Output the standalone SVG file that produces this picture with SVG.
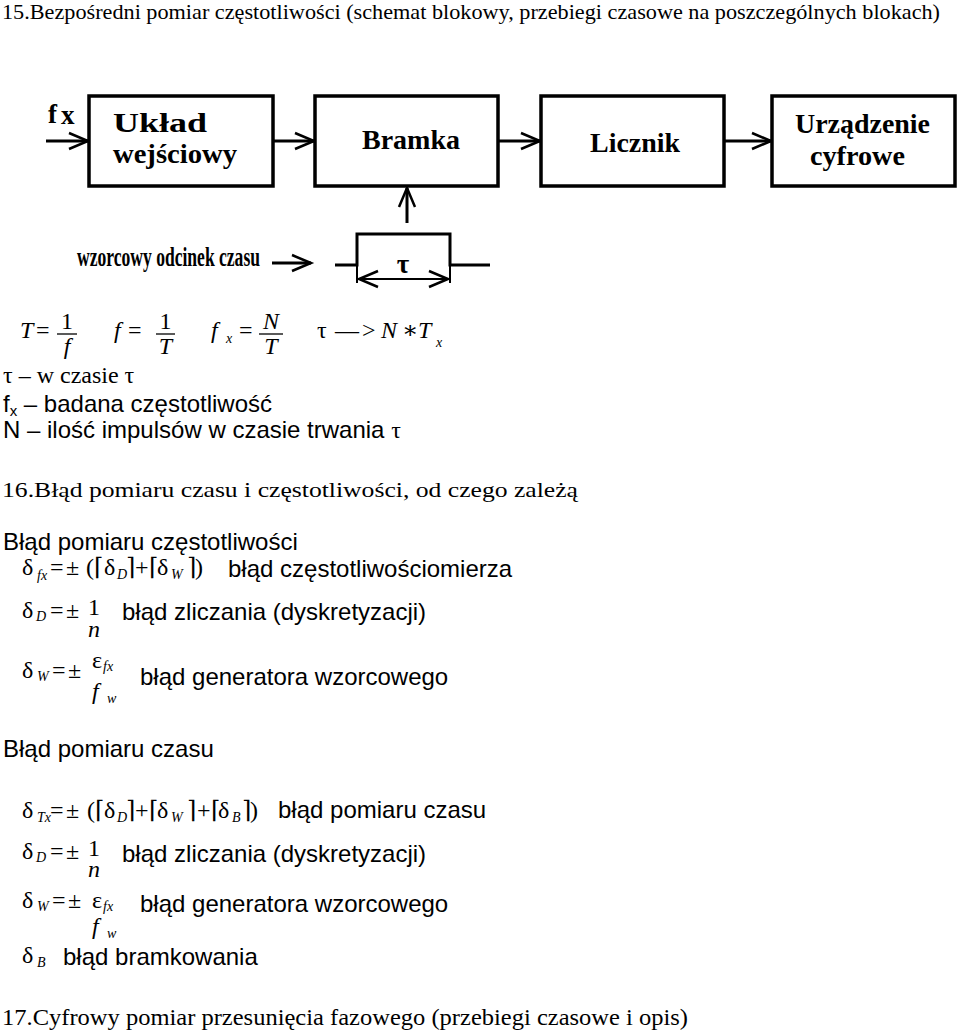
<svg xmlns="http://www.w3.org/2000/svg" width="960" height="1030" viewBox="0 0 960 1030">
<style>
.ser{font-family:"Liberation Serif","DejaVu Serif",serif;fill:#000}
.it{font-style:italic}
.ar{font-family:"Liberation Sans",Arial,sans-serif;font-size:24px;fill:#000}
.blk{font-family:"Liberation Serif","DejaVu Serif",serif;font-weight:bold;font-size:27px;fill:#000}
.box{fill:#fff;stroke:#000;stroke-width:3.5}
.ln{fill:none;stroke:#000;stroke-width:3}
.thin{fill:none;stroke:#000;stroke-width:2}
.bar{stroke:#000;stroke-width:1.3}
.m{font-family:"Liberation Serif","DejaVu Serif",serif;font-size:24px;fill:#000}
.d{font-family:"Liberation Serif","DejaVu Serif",serif;font-size:24px;fill:#000}
.s{font-family:"Liberation Serif","DejaVu Serif",serif;font-size:14px;font-style:italic;fill:#000}
</style>
<defs>
<marker id="ah" viewBox="-22 -12 24 24" refX="0" refY="0" markerWidth="24" markerHeight="24" markerUnits="userSpaceOnUse" orient="auto-start-reverse" overflow="visible">
<path d="M-19,-8 L0,0 L-19,8" fill="none" stroke="#000" stroke-width="2.5"/>
</marker>
</defs>
<rect width="960" height="1030" fill="#fff"/>

<text class="ser" x="2" y="19" font-size="22" textLength="938" lengthAdjust="spacingAndGlyphs">15.Bezpośredni pomiar częstotliwości (schemat blokowy, przebiegi czasowe na poszczególnych blokach)</text>

<g id="connectors">
<line class="ln" x1="46" y1="141" x2="88" y2="141" marker-end="url(#ah)"/>
<line class="ln" x1="273" y1="141" x2="314" y2="141" marker-end="url(#ah)"/>
<line class="ln" x1="498" y1="141" x2="540" y2="141" marker-end="url(#ah)"/>
<line class="ln" x1="724" y1="141" x2="771" y2="141" marker-end="url(#ah)"/>
<line class="ln" x1="407" y1="223" x2="407" y2="188" marker-end="url(#ah)"/>
<line class="ln" x1="272" y1="263" x2="311" y2="263" marker-end="url(#ah)"/>
</g>

<g id="input-fx">
<text class="blk" x="48" y="123">f</text><text class="blk" x="61" y="124" font-size="17">x</text>
</g>

<g id="n-uklad">
<rect class="box" x="89" y="96" width="184" height="90"/>
<text class="blk" x="113" y="132" textLength="94" lengthAdjust="spacingAndGlyphs">Układ</text>
<text class="blk" x="113" y="163" textLength="124" lengthAdjust="spacingAndGlyphs">wejściowy</text>
</g>
<g id="n-bramka">
<rect class="box" x="315" y="96" width="183" height="90"/>
<text class="blk" x="362" y="149" textLength="98" lengthAdjust="spacingAndGlyphs">Bramka</text>
</g>
<g id="n-licznik">
<rect class="box" x="541" y="96" width="183" height="90"/>
<text class="blk" x="590" y="152" textLength="90" lengthAdjust="spacingAndGlyphs">Licznik</text>
</g>
<g id="n-urzadzenie">
<rect class="box" x="772" y="96" width="183" height="90"/>
<text class="blk" x="795" y="133" textLength="135" lengthAdjust="spacingAndGlyphs">Urządzenie</text>
<text class="blk" x="810" y="165" textLength="95" lengthAdjust="spacingAndGlyphs">cyfrowe</text>
</g>

<g id="n-wzorcowy">
<text class="blk" x="77" y="266" font-size="15" textLength="183" lengthAdjust="spacingAndGlyphs">wzorcowy odcinek czasu</text>
</g>

<g id="n-pulse">
<path class="ln" d="M335,265 H357 V234 H450 V265 H490"/>
<path class="thin" d="M357,265 V283 M450,265 V283"/>
<line class="thin" x1="359" y1="279" x2="448" y2="279" marker-start="url(#ah)" marker-end="url(#ah)"/>
<text class="blk" x="403" y="273" font-size="22" text-anchor="middle">τ</text>
</g>

<g id="formulas-row">
<text class="m it" x="20" y="338">T</text><text class="m" x="36" y="338">=</text>
<line class="bar" x1="57" y1="334" x2="77" y2="334"/>
<text class="m" x="67" y="329" text-anchor="middle">1</text>
<text class="m it" x="67" y="354" text-anchor="middle">f</text>

<text class="m it" x="114" y="338">f</text><text class="m" x="128" y="338">=</text>
<line class="bar" x1="156" y1="334" x2="175" y2="334"/>
<text class="m" x="165.5" y="329" text-anchor="middle">1</text>
<text class="m it" x="165.5" y="354" text-anchor="middle">T</text>

<text class="m it" x="211" y="338">f</text><text class="s" x="226" y="343">x</text><text class="m" x="239" y="338">=</text>
<line class="bar" x1="259" y1="334" x2="283" y2="334"/>
<text class="m it" x="271" y="329" text-anchor="middle">N</text>
<text class="m it" x="271" y="354" text-anchor="middle">T</text>

<text class="m" x="317" y="338">τ</text><text class="m" x="335" y="338">—</text><text class="m" x="362" y="338">&gt;</text>
<text class="m it" x="381" y="338">N</text><text class="m" x="402" y="338">∗</text><text class="m it" x="418" y="338">T</text><text class="s" x="436" y="347">x</text>
</g>

<g id="definitions">
<text class="ser" x="3" y="383" font-size="24">τ – w czasie τ</text>
<text class="ar" x="3" y="412">f<tspan font-size="15" dy="4">x</tspan><tspan dy="-4"> – badana częstotliwość</tspan></text>
<text class="ar" x="3" y="438">N – ilość impulsów w czasie trwania <tspan class="ser">τ</tspan></text>
</g>

<text class="ser" x="2" y="497" font-size="22" textLength="576" lengthAdjust="spacingAndGlyphs">16.Błąd pomiaru czasu i częstotliwości, od czego zależą</text>

<g id="freq-error">
<text class="ar" x="3" y="550">Błąd pomiaru częstotliwości</text>
<text class="d" x="22" y="575">δ</text><text class="s" x="37" y="580">fx</text>
<text class="d" x="50" y="575">=</text><text class="d" x="66" y="575">±</text>
<text class="d" x="86" y="575">(</text><text class="d" x="94" y="575">⌈</text>
<text class="d" x="104" y="575">δ</text><text class="s" x="117" y="579">D</text><text class="d" x="126" y="575">⌉</text>
<text class="d" x="135" y="575">+</text><text class="d" x="149" y="575">⌈</text>
<text class="d" x="157" y="575">δ</text><text class="s" x="171" y="579">W</text><text class="d" x="187" y="575">⌉</text>
<text class="d" x="195" y="575">)</text>
<text class="ar" x="228" y="577">błąd częstotliwościomierza</text>

<text class="d" x="22" y="618">δ</text><text class="s" x="36" y="621">D</text>
<text class="d" x="50" y="618">=</text><text class="d" x="66" y="618">±</text>
<text class="d" x="94" y="615" font-size="26" text-anchor="middle">1</text>
<text class="d it" x="94" y="637" font-size="26" text-anchor="middle">n</text>
<text class="ar" x="122" y="620">błąd zliczania (dyskretyzacji)</text>

<text class="d" x="22" y="678">δ</text><text class="s" x="37" y="681">W</text>
<text class="d" x="52" y="678">=</text><text class="d" x="68" y="678">±</text>
<text class="d" x="92" y="668">ε</text><text class="s" x="103" y="671">fx</text>
<text class="d it" x="92" y="699">f</text><text class="s" x="107" y="703">w</text>
<text class="ar" x="140" y="685">błąd generatora wzorcowego</text>
</g>

<g id="time-error">
<text class="ar" x="3" y="757">Błąd pomiaru czasu</text>
<text class="d" x="22" y="818">δ</text><text class="s" x="37" y="822">Tx</text>
<text class="d" x="50" y="818">=</text><text class="d" x="66" y="818">±</text>
<text class="d" x="87" y="818">(</text><text class="d" x="95" y="818">⌈</text>
<text class="d" x="104" y="818">δ</text><text class="s" x="117" y="822">D</text><text class="d" x="126" y="818">⌉</text>
<text class="d" x="135" y="818">+</text><text class="d" x="149" y="818">⌈</text>
<text class="d" x="157" y="818">δ</text><text class="s" x="171" y="822">W</text><text class="d" x="187" y="818">⌉</text>
<text class="d" x="197" y="818">+</text><text class="d" x="211" y="818">⌈</text>
<text class="d" x="218" y="818">δ</text><text class="s" x="232" y="822">B</text><text class="d" x="242" y="818">⌉</text>
<text class="d" x="250" y="818">)</text>
<text class="ar" x="278" y="818">błąd pomiaru czasu</text>

<text class="d" x="22" y="859">δ</text><text class="s" x="36" y="862">D</text>
<text class="d" x="50" y="859">=</text><text class="d" x="66" y="859">±</text>
<text class="d" x="94" y="856" font-size="26" text-anchor="middle">1</text>
<text class="d it" x="94" y="877" font-size="26" text-anchor="middle">n</text>
<text class="ar" x="122" y="862">błąd zliczania (dyskretyzacji)</text>

<text class="d" x="22" y="908">δ</text><text class="s" x="37" y="911">W</text>
<text class="d" x="52" y="908">=</text><text class="d" x="68" y="908">±</text>
<text class="d" x="92" y="908">ε</text><text class="s" x="103" y="911">fx</text>
<text class="d it" x="92" y="934">f</text><text class="s" x="107" y="938">w</text>
<text class="ar" x="140" y="912">błąd generatora wzorcowego</text>

<text class="d" x="22" y="963">δ</text><text class="s" x="37" y="967">B</text>
<text class="ar" x="63" y="965">błąd bramkowania</text>
</g>

<text class="ser" x="2" y="1025" font-size="23" textLength="686" lengthAdjust="spacingAndGlyphs">17.Cyfrowy pomiar przesunięcia fazowego (przebiegi czasowe i opis)</text>
</svg>
